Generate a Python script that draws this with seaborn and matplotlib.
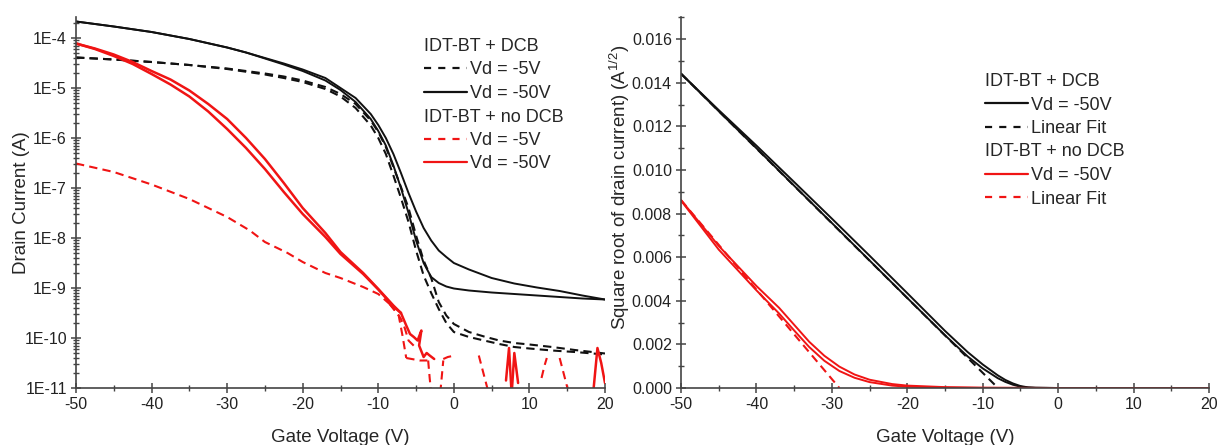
import numpy as np
import pandas as pd
import matplotlib
matplotlib.use("Agg")
import matplotlib.pyplot as plt
import seaborn as sns
from matplotlib.lines import Line2D
from matplotlib.ticker import FixedLocator, FuncFormatter, MultipleLocator, LogLocator, NullFormatter

# ---------------- data: left panel (log10 of drain current, A) ----------------
vg_dcb50 = [-50, -45, -40, -35, -30, -27.5, -25, -22.5, -20, -17, -15, -13, -11, -10, -9, -8, -7, -6, -5, -4, -3, -2, -1, 0, 2, 5, 8, 11, 14, 17, 20]
dcb50_up = [-3.67, -3.77, -3.88, -4.02, -4.19, -4.29, -4.40, -4.51, -4.63, -4.80, -5.00, -5.20, -5.52, -5.74, -6.00, -6.32, -6.70, -7.10, -7.47, -7.80, -8.05, -8.25, -8.38, -8.50, -8.63, -8.80, -8.91, -8.99, -9.06, -9.15, -9.23]
dcb50_dn = [-3.67, -3.77, -3.88, -4.02, -4.19, -4.29, -4.41, -4.53, -4.66, -4.85, -5.04, -5.28, -5.62, -5.86, -6.15, -6.55, -7.00, -7.50, -8.05, -8.50, -8.78, -8.90, -8.97, -9.01, -9.05, -9.09, -9.12, -9.15, -9.18, -9.21, -9.23]

vg_dcb5 = [-50, -45, -40, -35, -30, -25, -22.5, -20, -17, -15, -13, -11, -10, -9, -8, -7, -6, -5, -4, -3, -2, -1, 0, 2, 4, 6, 8, 10, 13, 16, 20]
dcb5_a = [-4.39, -4.43, -4.48, -4.54, -4.61, -4.71, -4.77, -4.85, -4.98, -5.12, -5.32, -5.65, -5.88, -6.18, -6.58, -6.98, -7.40, -7.95, -8.45, -8.80, -9.28, -9.55, -9.72, -9.88, -9.97, -10.05, -10.10, -10.13, -10.18, -10.24, -10.31]
dcb5_b = [-4.39, -4.43, -4.48, -4.54, -4.62, -4.73, -4.80, -4.88, -5.02, -5.17, -5.40, -5.75, -6.00, -6.32, -6.75, -7.20, -7.68, -8.25, -8.75, -9.10, -9.42, -9.70, -9.88, -9.98, -10.05, -10.12, -10.18, -10.21, -10.25, -10.28, -10.33]

vg_nodcb50 = [-50, -47.5, -45, -42.5, -40, -37.5, -35, -32.5, -30, -27.5, -25, -22.5, -20, -17, -15, -12, -10, -8, -7]
nodcb50_a = [-4.11, -4.21, -4.33, -4.48, -4.66, -4.83, -5.05, -5.32, -5.62, -6.00, -6.42, -6.90, -7.40, -7.90, -8.28, -8.70, -9.02, -9.35, -9.50]
nodcb50_b = [-4.11, -4.22, -4.36, -4.52, -4.72, -4.93, -5.17, -5.47, -5.82, -6.20, -6.62, -7.08, -7.52, -7.98, -8.32, -8.72, -9.03, -9.37, -9.50]
# noisy low-current tail of the red Vd=-50V sweep, broken into visible pieces
nodcb50_tail_seg = [0, 0, 0, 0, 0, 0, 0, 0, 0, 0, 0, 1, 1, 1, 2, 2, 2, 3, 3, 3, 3]
nodcb50_tail_vg = [-7.0, -6.3, -5.8, -5.3, -4.8, -4.3, -4.6, -4.0, -3.6, -3.2, -2.6, 6.9, 7.3, 7.6, 7.7, 8.0, 8.5, 18.5, 19.0, 19.5, 20.0]
nodcb50_tail = [-9.50, -9.75, -9.92, -9.98, -10.05, -9.85, -10.15, -10.38, -10.30, -10.35, -10.42, -10.85, -10.20, -11.0, -11.0, -10.30, -10.90, -11.0, -10.20, -10.50, -10.90]

vg_nodcb5 = [-50, -45, -40, -35, -30, -27, -25, -22, -20, -17, -15, -12, -10, -8.5]
nodcb5 = [-6.51, -6.68, -6.93, -7.22, -7.58, -7.85, -8.08, -8.30, -8.48, -8.70, -8.80, -8.98, -9.12, -9.32]
nodcb5_tail_seg = [0, 0, 0, 0, 0, 0, 1, 1, 1, 1, 2, 2, 2, 3, 3, 3, 4, 4, 5, 5, 5, 6, 6, 7, 7, 7, 8, 8]
nodcb5_tail_vg = [-8.5, -7.5, -7.0, -6.5, -6.0, -5.0, -8.5, -7.3, -6.8, -6.3, -6.3, -4.5, -3.5, -3.4, -3.2, -3.0, -1.8, -1.4, -1.4, -0.8, -0.2, 3.3, 4.6, 11.6, 12.0, 12.3, 14.0, 15.2]
nodcb5_tail = [-9.32, -9.50, -9.62, -9.80, -10.05, -10.20, -9.32, -9.55, -9.95, -10.40, -10.40, -10.45, -10.45, -10.45, -10.80, -11.1, -11.1, -10.45, -10.42, -10.38, -10.36, -10.35, -11.1, -10.80, -10.55, -10.40, -10.40, -11.1]

# ---------------- data: right panel (sqrt of drain current, A^1/2) ----------------
vg_sq_dcb = [-50, -45, -40, -35, -30, -25, -20, -15, -12, -10, -8, -7, -6, -5, -4, -3, 0, 2.5]
sq_dcb_a = [0.01442, 0.01270, 0.01100, 0.00928, 0.00757, 0.00585, 0.00413, 0.00242, 0.00145, 0.00090, 0.00045, 0.00028, 0.00015, 0.00006, 0.00002, 0.00001, 0.0, 0.0]
sq_dcb_b = [0.01442, 0.01275, 0.01112, 0.00945, 0.00777, 0.00607, 0.00435, 0.00262, 0.00165, 0.00108, 0.00058, 0.00037, 0.00021, 0.00009, 0.00003, 0.00001, 0.0, 0.0]
fit_dcb_vg = [-50, -8]
fit_dcb = [0.01442, 0.00001]

vg_sq_nodcb = [-50, -45, -40, -37, -35, -33, -31, -29, -27, -25, -22, -20, -15, -10, 0, 20]
sq_nodcb_a = [0.00860, 0.00635, 0.00448, 0.00342, 0.00264, 0.00188, 0.00125, 0.00078, 0.00047, 0.00027, 0.00011, 0.00006, 0.00002, 0.00001, 0.0, 0.0]
sq_nodcb_b = [0.00862, 0.00652, 0.00468, 0.00368, 0.00290, 0.00212, 0.00148, 0.00098, 0.00062, 0.00038, 0.00018, 0.00011, 0.00004, 0.00001, 0.0, 0.0]
fit_nodcb_vg = [-50, -29]
fit_nodcb = [0.00862, 0.0]

# ---------------- style ----------------
sns.set_style("ticks")
plt.rcParams["font.family"] = ["Liberation Sans", "DejaVu Sans"]
plt.rcParams["mathtext.default"] = "regular"
plt.rcParams["axes.unicode_minus"] = False
RED = "#f01414"
BLK = "#111111"
SPINE = "#444444"
DASH = (0, (4, 2.5))

fig = plt.figure(figsize=(12.19, 4.45), dpi=100)
W, H = 1219, 445
axL = fig.add_axes([76 / W, 1 - 388 / H, 529 / W, 371 / H])
axR = fig.add_axes([681 / W, 1 - 388 / H, 528 / W, 371 / H])


def line(ax, x, y, color, ls="-", lw=1.4, log=False):
    y = np.asarray(y, float)
    if log:
        y = 10 ** y
    sns.lineplot(x=x, y=y, ax=ax, color=color, linestyle=ls, linewidth=lw,
                 sort=False, estimator=None, legend=False)


def segs(ax, seg, x, y, color, ls="-", lw=1.4):
    df = pd.DataFrame({"seg": seg, "x": x, "y": 10 ** np.asarray(y, float)})
    sns.lineplot(data=df, x="x", y="y", units="seg", estimator=None, sort=False,
                 ax=ax, color=color, linestyle=ls, linewidth=lw, legend=False)


# left panel
axL.set_yscale("log")
line(axL, vg_dcb5, dcb5_a, BLK, DASH, 1.5, log=True)
line(axL, vg_dcb5, dcb5_b, BLK, DASH, 1.5, log=True)
line(axL, vg_dcb50, dcb50_up, BLK, "-", 1.4, log=True)
line(axL, vg_dcb50, dcb50_dn, BLK, "-", 1.4, log=True)
line(axL, vg_nodcb5, nodcb5, RED, DASH, 1.5, log=True)
segs(axL, nodcb5_tail_seg, nodcb5_tail_vg, nodcb5_tail, RED, DASH, 1.5)
line(axL, vg_nodcb50, nodcb50_a, RED, "-", 1.8, log=True)
line(axL, vg_nodcb50, nodcb50_b, RED, "-", 1.8, log=True)
segs(axL, nodcb50_tail_seg, nodcb50_tail_vg, nodcb50_tail, RED, "-", 1.8)

axL.set_xlim(-50, 20)
axL.set_ylim(1e-11, 10 ** -3.58)
axL.yaxis.set_major_locator(FixedLocator([10.0 ** k for k in range(-11, -3)]))
axL.yaxis.set_major_formatter(FuncFormatter(lambda v, p: "1E%d" % int(round(np.log10(v)))))
axL.yaxis.set_minor_locator(LogLocator(base=10, subs=np.arange(2, 10), numticks=100))
axL.yaxis.set_minor_formatter(NullFormatter())
axL.set_ylabel("Drain Current (A)", fontsize=13.5, labelpad=-4)

# right panel
line(axR, vg_sq_dcb, sq_dcb_a, BLK, "-", 1.4)
line(axR, vg_sq_dcb, sq_dcb_b, BLK, "-", 1.4)
line(axR, fit_dcb_vg, fit_dcb, BLK, DASH, 1.5)
line(axR, vg_sq_nodcb, sq_nodcb_a, RED, "-", 1.4)
line(axR, vg_sq_nodcb, sq_nodcb_b, RED, "-", 1.4)
line(axR, fit_nodcb_vg, fit_nodcb, RED, DASH, 1.5)
axR.set_xlim(-50, 20)
axR.set_ylim(0, 0.01702)
axR.yaxis.set_major_locator(MultipleLocator(0.002))
axR.yaxis.set_minor_locator(MultipleLocator(0.001))
axR.yaxis.set_major_formatter(FuncFormatter(lambda v, p: "%.3f" % v))
axR.set_ylabel(r"Square root of drain current) (A$^{1/2}$)", fontsize=13.5, labelpad=0)
axR.yaxis.set_label_coords(-0.092, 0.54)

for ax in (axL, axR):
    sns.despine(ax=ax)
    for s in ("left", "bottom"):
        ax.spines[s].set_color(SPINE)
        ax.spines[s].set_linewidth(1.2)
    ax.xaxis.set_major_locator(MultipleLocator(10))
    ax.xaxis.set_minor_locator(MultipleLocator(5))
    ax.tick_params(which="major", direction="inout", length=7, width=1.1, color=SPINE,
                   labelsize=11.5, labelcolor="#222222", pad=3)
    ax.tick_params(which="minor", direction="inout", length=4, width=1.0, color=SPINE)
    ax.set_xlabel("Gate Voltage (V)", fontsize=13.5, labelpad=12)


def build_legend(ax, rows, anchor):
    handles, labels, titles = [], [], []
    for kind, lab, col, ls in rows:
        if kind == "title":
            handles.append(Line2D([], [], linestyle="none"))
            titles.append(len(labels))
        else:
            handles.append(Line2D([], [], color=col, linestyle=ls, linewidth=1.6))
        labels.append(lab)
    leg = ax.legend(handles, labels, loc="upper left", bbox_to_anchor=anchor, frameon=False,
                    fontsize=13, handlelength=2.4, handletextpad=0.15, labelspacing=0.36,
                    borderpad=0, borderaxespad=0)
    col = leg._legend_handle_box.get_children()[0]
    items = col.get_children()
    for i in titles:
        items[i]._children = [items[i]._children[1]]
    return leg


LEGDASH = (0, (3.2, 3.2))
build_legend(axL, [("title", "IDT-BT + DCB", None, None),
                   ("line", "Vd = -5V", BLK, LEGDASH),
                   ("line", "Vd = -50V", BLK, "-"),
                   ("title", "IDT-BT + no DCB", None, None),
                   ("line", "Vd = -5V", RED, LEGDASH),
                   ("line", "Vd = -50V", RED, "-")],
             ((424 - 76) / 529, (388 - 38) / 371))
build_legend(axR, [("title", "IDT-BT + DCB", None, None),
                   ("line", "Vd = -50V", BLK, "-"),
                   ("line", "Linear Fit", BLK, LEGDASH),
                   ("title", "IDT-BT + no DCB", None, None),
                   ("line", "Vd = -50V", RED, "-"),
                   ("line", "Linear Fit", RED, LEGDASH)],
             ((985 - 681) / 528, (388 - 73) / 371))

fig.savefig("out.png", dpi=100)
